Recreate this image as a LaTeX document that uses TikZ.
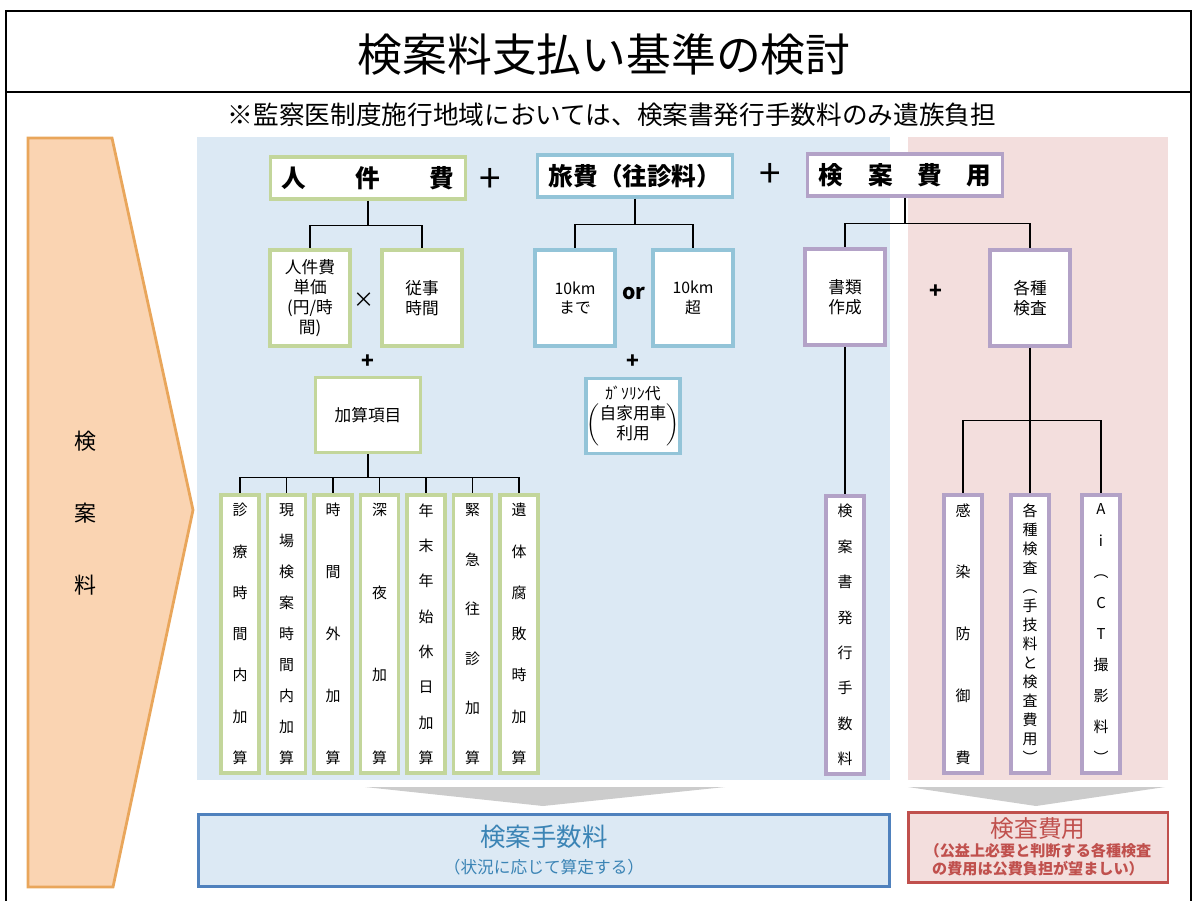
\documentclass[tikz,border=0pt]{standalone}
\usepackage{fontspec}
\setmainfont{Noto Sans CJK JP}
\definecolor{kgreen}{HTML}{C3D69B}
\definecolor{kblue}{HTML}{93C4D8}
\definecolor{kpurple}{HTML}{B3A2C7}
\definecolor{bluebg}{HTML}{DCE9F4}
\definecolor{pinkbg}{HTML}{F3DEDD}
\definecolor{arrowfill}{HTML}{FAD4B2}
\definecolor{arrowline}{HTML}{E9A65B}
\definecolor{feeline}{HTML}{4F81BD}
\definecolor{feetext}{HTML}{3B84B5}
\definecolor{costline}{HTML}{C0504D}

% vertical text, spread evenly over the given height
\ExplSyntaxOn
\NewDocumentCommand{\tate}{O{5.2cm}m}{
  \tl_set:No \l_tmpb_tl {#2}
  \seq_clear:N \l_tmpa_seq
  \tl_map_inline:Nn \l_tmpb_tl { \seq_put_right:Nn \l_tmpa_seq {##1} }
  \parbox[c][#1][s]{1.4em}{\centering \seq_use:Nn \l_tmpa_seq {\par\vfill} \par}
}
\ExplSyntaxOff

\tikzset{
  box/.style={draw, line width=2pt, fill=white, inner sep=0pt, align=center,
    font=\fontsize{9.5pt}{11.5pt}\selectfont},
  gbox/.style={box, draw=kgreen},
  bbox/.style={box, draw=kblue},
  pbox/.style={box, draw=kpurple},
  head/.style={minimum width=3.9cm, minimum height=0.84cm,
    font=\fontsize{14pt}{16pt}\selectfont\bfseries},
  mid/.style={minimum width=1.6cm, minimum height=1.92cm},
  tall/.style={minimum width=0.76cm, minimum height=5.56cm,
    font=\fontsize{8.5pt}{10pt}\selectfont}
}

\begin{document}
\begin{tikzpicture}[x=0.02cm, y=-0.02cm, line width=0.7pt]
    \tikzstyle{op}=[inner sep=0pt, font=\fontsize{12pt}{14pt}\selectfont\bfseries]
    \tikzstyle{bigop}=[inner sep=0pt, font=\fontsize{22pt}{24pt}\selectfont]
    \useasboundingbox (0,0) rectangle (1192,900);

    % frame and title
    \draw[line width=0.9pt] (6,11) rectangle (1191,905);
    \draw[line width=0.9pt] (6,92) -- (1191,92);
    \node (title) at (604,54) {\fontsize{25.5pt}{28pt}\selectfont 検案料支払い基準の検討};
    \node (note) at (612,115) {\fontsize{14.6pt}{16pt}\selectfont ※監察医制度施行地域においては、検案書発行手数料のみ遺族負担};

    % background areas
    \fill[bluebg] (197,137) rectangle (890,780);
    \fill[pinkbg] (908,137) rectangle (1168,780);

    % left arrow
    \draw[arrowline, fill=arrowfill, line width=1.6pt] (28,138) -- (112,138) -- (193,510) -- (113,887) -- (28,887) -- cycle;
    \node[align=center, font=\fontsize{12.5pt}{41pt}\selectfont] (kenan) at (85,513) {検\\案\\料};

    % top row
    \node[gbox,head] (jinken) at (368,178) {人　　件　　費};
    \node[bigop] (plus1) at (490,180) {+};
    \node[bbox,head] (ryohi) at (635,176) {旅費（往診料）};
    \node[bigop] (plus2) at (770,175) {+};
    \node[pbox,head] (kenhi) at (905,175) {検　案　費　用};

    % second row
    \node[gbox,mid] (tanka) at (310,298) {人件費\\単価\\(円/時\\間)};
    \node[op, font=\fontsize{12pt}{14pt}\selectfont] (times) at (364,300) {×};
    \node[gbox,mid] (jikan) at (422,298) {従事\\時間};
    \node[bbox,mid, font=\fontsize{9pt}{11pt}\selectfont] (made) at (575,298) {10km\\まで};
    \node[op] (or) at (634,293) {or};
    \node[bbox,mid, font=\fontsize{9pt}{11pt}\selectfont] (cho) at (693,298) {10km\\超};
    \node[pbox,mid] (shorui) at (845,297) {書類\\作成};
    \node[op] (plus5) at (936,292) {+};
    \node[pbox,mid] (kakushu) at (1030,298) {各種\\検査};

    \draw (jinken.south) -- ++(0,25) -| (tanka.north);
    \draw (jinken.south) -- ++(0,25) -| (jikan.north);
    \draw (ryohi.south) -- ++(0,26) -| (made.north);
    \draw (ryohi.south) -- ++(0,26) -| (cho.north);
    \draw (kenhi.south) -- ++(0,26) -| (shorui.north);
    \draw (kenhi.south) -- ++(0,26) -| (kakushu.north);

    % third row
    \node[op] (plus3) at (368,362) {+};
    \node[gbox, minimum width=2.1cm, minimum height=1.5cm] (kasan) at (368,415) {加算項目};
    \node[op] (plus4) at (633,362) {+};
    \node[bbox, minimum width=1.88cm, minimum height=1.5cm] (gas) at (633,416)
        {\begin{tabular}{@{}c@{}}{\fontsize{9pt}{10pt}\selectfont ｶﾞｿﾘﾝ代}\\[-1pt]
         $\left(\begin{tabular}{@{}c@{}}自家用車\\利用\end{tabular}\right)$\end{tabular}};

    % additions
    \foreach \i/\lbl in {1/診療時間内加算, 2/現場検案時間内加算, 3/時間外加算, 4/深夜加算,
                         5/年末年始休日加算, 6/緊急往診加算, 7/遺体腐敗時加算} {
        \node[gbox,tall] (k\i) at ({240+46.5*(\i-1)},634) {\tate{\lbl}};
        \draw (kasan.south) -- ++(0,23) -| (k\i.north);
    }

    % documents and examinations
    \node[pbox,tall] (hakko) at (845,635) {\tate{検案書発行手数料}};
    \draw (shorui.south) -- (hakko.north);
    \node[pbox,tall] (kansen) at (963,634) {\tate{感染防御費}};
    \node[pbox,tall] (kensa) at (1030,634) {\tate{各種検査︵手技料と検査費用︶}};
    \node[pbox,tall] (ai) at (1101,634) {\tate{Ai︵CT撮影料︶}};
    \draw (kakushu.south) -- ++(0,73) -| (kansen.north);
    \draw (kakushu.south) -- (kensa.north);
    \draw (kakushu.south) -- ++(0,73) -| (ai.north);

    % totals
    \fill[black!20] (365,787) -- (725,787) -- (543,806) -- cycle;
    \fill[black!20] (908,787) -- (1165,787) -- (1036,806) -- cycle;
    \node[draw=feeline, fill=bluebg, line width=1.7pt, text=feetext, align=center,
          minimum width=13.82cm, minimum height=1.44cm, inner sep=0pt,
          font=\fontsize{9.5pt}{12pt}\selectfont] (fee) at (544,850)
        {{\fontsize{14.5pt}{17pt}\selectfont 検案手数料}\\[3pt]（状況に応じて算定する）};
    \node[draw=costline, fill=pinkbg, line width=1.7pt, text=costline, align=center,
          minimum width=5.2cm, minimum height=1.4cm, inner sep=0pt,
          font=\fontsize{8.6pt}{10.5pt}\selectfont\bfseries] (cost) at (1038,847)
        {{\fontsize{13.5pt}{16pt}\selectfont\mdseries 検査費用}\\（公益上必要と判断する各種検査\\の費用は公費負担が望ましい）};
\end{tikzpicture}
\end{document}
